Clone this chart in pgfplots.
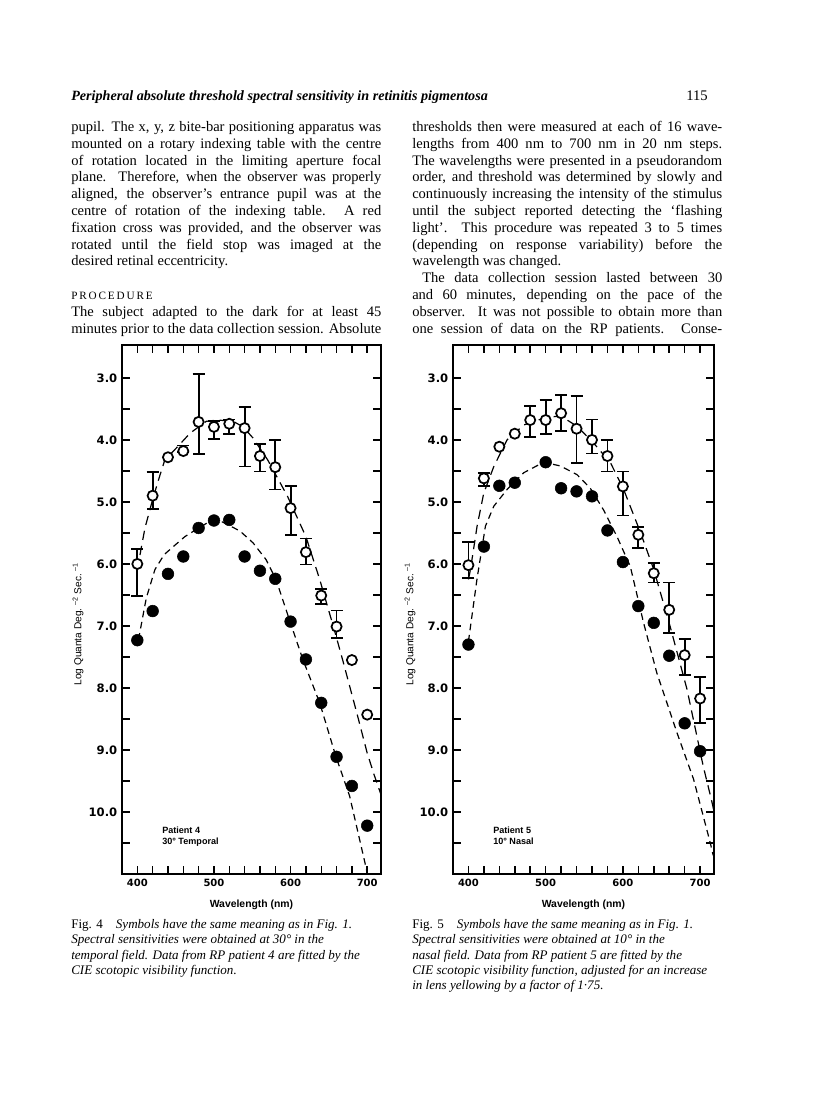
\documentclass[border=0pt]{standalone}
\usepackage{pgfplots}
\pgfplotsset{compat=1.18}
\usepackage{fontspec}
\setmainfont{Liberation Serif}
\setsansfont{Liberation Sans}
\newfontfamily\dvs{DejaVu Sans}

\newcommand\bodyfont{\fontsize{10.9}{12.6}\selectfont}
\newcommand\capfont{\fontsize{9.8}{11.5}\selectfont}
\newcommand\ytickfont{\dvs\bfseries\fontsize{8.7}{10}\selectfont}
\newcommand\xtickfont{\dvs\bfseries\fontsize{7.5}{9}\selectfont}
\newcommand\labfont{\sffamily\bfseries\fontsize{7.8}{9}\selectfont}
\newcommand\ylabfont{\sffamily\fontsize{7.6}{9}\selectfont}
\newcommand\patfont{\sffamily\bfseries\fontsize{6.8}{8}\selectfont}

% one justified / one ragged line of text, base west at (x,y) in page pixels
\newcommand\jline[3]{\node[anchor=base west,inner sep=0pt,font=\bodyfont] at (#1,#2) {\makebox[232.5pt][s]{#3}};}
\newcommand\rline[3]{\node[anchor=base west,inner sep=0pt,font=\bodyfont] at (#1,#2) {#3};}
\newcommand\capline[3]{\node[anchor=base west,inner sep=0pt,font=\capfont] at (#1,#2) {#3};}

\pgfplotsset{
  rp/.style={
    scale only axis, anchor=south west,
    height=396.75pt,
    xmin=380, xmax=718, ymin=2.47, ymax=11.0, y dir=reverse,
    xtick={400,500,600,700}, minor xtick={420,440,...,680},
    ytick={3,...,10}, minor ytick={3.5,4.5,...,10.5},
    tick align=inside, major tick length=6pt, minor tick length=6pt,
    every tick/.append style={line width=1.1pt, black},
    axis line style={line width=2.2pt},
    /pgf/number format/assume math mode=true,
    xticklabel style={font=\xtickfont},
    yticklabel style={font=\ytickfont, /pgf/number format/fixed,
      /pgf/number format/fixed zerofill, /pgf/number format/precision=1},
  },
  upper/.style={black, line width=0.9pt, dash pattern=on 7pt off 4.5pt},
  lower/.style={black, line width=0.9pt, dash pattern=on 5pt off 3.5pt},
  opn/.style={only marks, mark=*, mark size=3.8pt,
    mark options={fill=white, draw=black, line width=1.3pt}},
  fil/.style={only marks, mark=*, mark size=4.4pt, mark options={fill=black, draw=black}},
  ebar/.style={opn, error bars/.cd, y dir=both, y explicit,
    error bar style={line width=1.4pt}, error mark=-,
    error mark options={rotate=90, mark size=4.5pt, line width=1.4pt}},
}

\begin{document}
\begin{tikzpicture}
\begin{scope}[x=0.75pt,y=-0.75pt]
\fill[white] (0,0) rectangle (816,1109);
\path[use as bounding box] (0,0) rectangle (816,1109);

% running head
\node[anchor=base west,inner sep=0pt,font=\fontsize{10.6}{12}\selectfont\bfseries\itshape] at (71,101)
  {Peripheral absolute threshold spectral sensitivity in retinitis pigmentosa};
\node[anchor=base east,inner sep=0pt,font=\fontsize{11}{12}\selectfont] at (708,101) {115};

% left column
\jline{71}{131.5}{pupil. The x, y, z bite-bar positioning apparatus was}
\jline{71}{148.3}{mounted on a rotary indexing table with the centre}
\jline{71}{165.1}{of rotation located in the limiting aperture focal}
\jline{71}{181.9}{plane. Therefore, when the observer was properly}
\jline{71}{198.7}{aligned, the observer’s entrance pupil was at the}
\jline{71}{215.5}{centre of rotation of the indexing table. A red}
\jline{71}{232.3}{fixation cross was provided, and the observer was}
\jline{71}{249.1}{rotated until the field stop was imaged at the}
\rline{71}{265.9}{desired retinal eccentricity.}
\node[anchor=base west,inner sep=0pt,font=\fontsize{8.4}{10}\selectfont] at (71,299.5)
  {P\,R\,O\,C\,E\,D\,U\,R\,E};
\jline{71}{316.3}{The subject adapted to the dark for at least 45}
\jline{71}{333.1}{minutes prior to the data collection session. Absolute}

% right column
\jline{412}{131.5}{thresholds then were measured at each of 16 wave-}
\jline{412}{148.3}{lengths from 400 nm to 700 nm in 20 nm steps.}
\jline{412}{165.1}{The wavelengths were presented in a pseudorandom}
\jline{412}{181.9}{order, and threshold was determined by slowly and}
\jline{412}{198.7}{continuously increasing the intensity of the stimulus}
\jline{412}{215.5}{until the subject reported detecting the ‘flashing}
\jline{412}{232.3}{light’. This procedure was repeated 3 to 5 times}
\jline{412}{249.1}{(depending on response variability) before the}
\rline{412}{265.9}{wavelength was changed.}
\node[anchor=base west,inner sep=0pt,font=\bodyfont] at (422,282.7)
  {\makebox[225pt][s]{The data collection session lasted between 30}};
\jline{412}{299.5}{and 60 minutes, depending on the pace of the}
\jline{412}{316.3}{observer. It was not possible to obtain more than}
\jline{412}{333.1}{one session of data on the RP patients. Conse-}

% axis titles drawn as text
\node[font=\labfont] at (251.5,905) {Wavelength (nm)};
\node[font=\labfont] at (583.5,905) {Wavelength (nm)};
\node[font=\ylabfont,rotate=90] at (78,624) {Log Quanta Deg.\ \textsuperscript{–2} Sec.\ \textsuperscript{–1}};
\node[font=\ylabfont,rotate=90] at (410,624) {Log Quanta Deg.\ \textsuperscript{–2} Sec.\ \textsuperscript{–1}};

\node[anchor=base west,inner sep=0pt,font=\patfont] at (162,833) {Patient 4};
\node[anchor=base west,inner sep=0pt,font=\patfont] at (162,844) {30° Temporal};
\node[anchor=base west,inner sep=0pt,font=\patfont] at (493,833) {Patient 5};
\node[anchor=base west,inner sep=0pt,font=\patfont] at (493,844) {10° Nasal};

% captions
\capline{71}{928.5}{Fig. 4\quad\itshape Symbols have the same meaning as in Fig. 1.}
\capline{71}{943.8}{\itshape Spectral sensitivities were obtained at 30° in the}
\capline{71}{959.1}{\itshape temporal field. Data from RP patient 4 are fitted by the}
\capline{71}{974.4}{\itshape CIE scotopic visibility function.}
\capline{412}{928.5}{Fig. 5\quad\itshape Symbols have the same meaning as in Fig. 1.}
\capline{412}{943.8}{\itshape Spectral sensitivities were obtained at 10° in the}
\capline{412}{959.1}{\itshape nasal field. Data from RP patient 5 are fitted by the}
\capline{412}{974.4}{\itshape CIE scotopic visibility function, adjusted for an increase}
\capline{412}{989.7}{\itshape in lens yellowing by a factor of 1·75.}
\end{scope}

% ---------------- Fig. 4 ----------------
\begin{axis}[rp, at={(91.5pt,-655.5pt)}, width=194.25pt]
\addplot[upper] coordinates {
  (400,6.10) (405,5.75) (410,5.42) (420,4.96) (430,4.55) (436,4.32) (451,4.13)
  (469,3.89) (490,3.70) (505,3.68) (525,3.70) (538,3.79) (551,3.97) (570,4.32)
  (596,4.91) (620,5.56) (638,6.25) (657,7.06) (668,7.55) (687,8.43) (700,9.05)
  (709,9.40) (718,9.72)};
\addplot[lower] coordinates {
  (401.5,7.22) (411.7,6.55) (423,6.09) (435,5.85) (447,5.72) (462,5.56)
  (477.5,5.44) (495,5.31) (507,5.30) (518.6,5.37) (534,5.47) (551,5.66)
  (568,5.93) (581,6.25) (599,6.92) (616,7.54) (638,8.24) (659,9.10)
  (677,9.74) (698,10.87) (701,11.05)};
\addplot[ebar] coordinates {
  (400,6.00) += (0,0.52) -= (0,0.24)
  (420,4.90) += (0,0.21) -= (0,0.38)
  (460,4.18) += (0,0.02) -= (0,0.09)
  (480,3.71) += (0,0.52) -= (0,0.77)
  (500,3.79) += (0,0.20) -= (0,0.09)
  (520,3.74) += (0,0.17) -= (0,0.07)
  (540,3.81) += (0,0.62) -= (0,0.34)
  (560,4.26) += (0,0.25) -= (0,0.20)
  (580,4.44) += (0,0.36) -= (0,0.44)
  (600,5.10) += (0,0.43) -= (0,0.36)
  (620,5.81) += (0,0.20) -= (0,0.22)
  (640,6.51) += (0,0.13) -= (0,0.11)
  (660,7.01) += (0,0.18) -= (0,0.26)};
\addplot[opn] coordinates {(440,4.28) (680,7.55) (700,8.43)};
\addplot[fil] coordinates {
  (400,7.23) (420,6.76) (440,6.16) (460,5.88) (480,5.42) (500,5.30)
  (520,5.29) (540,5.88) (560,6.11) (580,6.24) (600,6.93) (620,7.54)
  (640,8.24) (660,9.11) (680,9.58) (700,10.22)};
\end{axis}

% ---------------- Fig. 5 ----------------
\begin{axis}[rp, at={(339.75pt,-655.5pt)}, width=195.75pt]
\addplot[upper] coordinates {
  (400,6.25) (402.6,6.09) (411.2,5.39) (419.8,4.86) (432.8,4.43) (450,4.00)
  (471.5,3.76) (497.4,3.65) (519,3.61) (540.6,3.78) (562,4.05) (584,4.37)
  (601,4.80) (623,5.50) (640,6.09) (661,7.00) (683,8.02) (704,9.26)
  (715,9.82) (719,10.05)};
\addplot[lower] coordinates {
  (400,7.25) (411,6.25) (422,5.39) (432.8,5.07) (450,4.80) (471.5,4.53)
  (497.4,4.36) (519,4.42) (540.6,4.56) (557.8,4.78) (575,5.13) (592.4,5.56)
  (609.6,6.04) (626.8,6.95) (644,7.76) (670,8.72) (691.5,9.47) (713,10.49)
  (717,10.70)};
\addplot[ebar] coordinates {
  (400,6.02) += (0,0.21) -= (0,0.38)
  (420,4.62) += (0,0.13) -= (0,0.09)
  (480,3.68) += (0,0.28) -= (0,0.22)
  (500,3.68) += (0,0.23) -= (0,0.33)
  (520,3.57) += (0,0.29) -= (0,0.30)
  (540,3.82) += (0,0.55) -= (0,0.53)
  (560,4.00) += (0,0.22) -= (0,0.33)
  (580,4.26) += (0,0.25) -= (0,0.26)
  (600,4.75) += (0,0.47) -= (0,0.24)
  (620,5.53) += (0,0.21) -= (0,0.13)
  (640,6.15) += (0,0.15) -= (0,0.17)
  (660,6.74) += (0,0.37) -= (0,0.44)
  (680,7.47) += (0,0.32) -= (0,0.26)
  (700,8.17) += (0,0.40) -= (0,0.35)};
\addplot[opn] coordinates {(440,4.11) (460,3.90)};
\addplot[fil] coordinates {
  (400,7.30) (420,5.72) (440,4.74) (460,4.69) (500,4.36) (520,4.78)
  (540,4.83) (560,4.91) (580,5.46) (600,5.97) (620,6.68) (640,6.95)
  (660,7.48) (680,8.57) (700,9.02)};
\end{axis}
\end{tikzpicture}
\end{document}
